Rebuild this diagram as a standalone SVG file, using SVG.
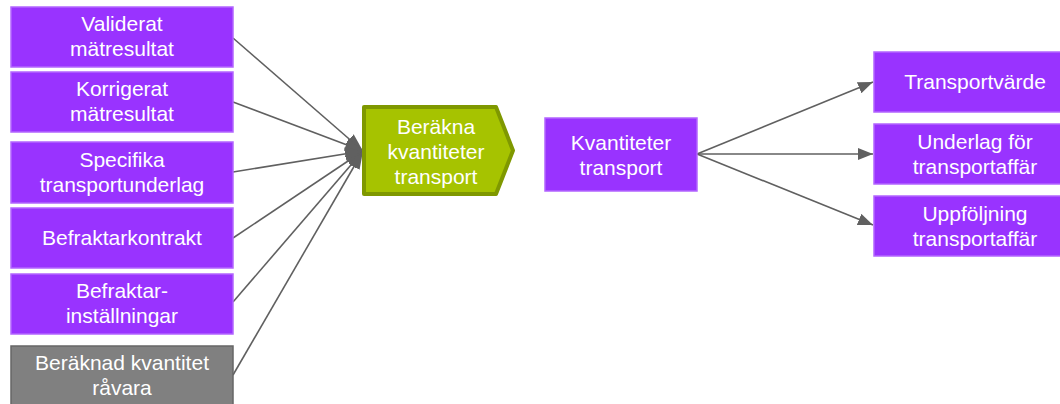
<svg xmlns="http://www.w3.org/2000/svg" width="1060" height="404" viewBox="0 0 1060 404">
<defs>
<marker id="ah" viewBox="0 0 15 12" refX="15" refY="6" markerWidth="15" markerHeight="12" markerUnits="userSpaceOnUse" orient="auto">
<path d="M0,0 L15,6 L0,12 Z" fill="#606060"/>
</marker>
<marker id="ahL" viewBox="0 0 18 13" refX="18" refY="6.5" markerWidth="18" markerHeight="13" markerUnits="userSpaceOnUse" orient="auto">
<path d="M0,0 L18,6.5 L0,13 Z" fill="#606060"/>
</marker>
<style>
.p{fill:#9933ff;stroke:#b366ff;stroke-width:1.5}
.g{fill:#808080;stroke:#666666;stroke-width:1.5}
.t{font-family:"Liberation Sans",Arial,sans-serif;font-size:21px;fill:#ffffff;text-anchor:middle}
.c{stroke:#606060;stroke-width:1.6;fill:none;marker-end:url(#ah)}
.cl{stroke:#606060;stroke-width:1.6;fill:none;marker-end:url(#ahL)}
</style>
</defs>
<rect width="1060" height="404" fill="#ffffff"/>
<g id="connectors">
<line class="cl" x1="233" y1="38" x2="363" y2="151"/>
<line class="cl" x1="233" y1="102" x2="363" y2="151"/>
<line class="cl" x1="233" y1="172" x2="363" y2="151"/>
<line class="cl" x1="233" y1="238" x2="363" y2="151"/>
<line class="cl" x1="233" y1="302" x2="363" y2="151"/>
<line class="cl" x1="233" y1="375" x2="363" y2="151"/>
<line class="c" x1="697" y1="154" x2="873" y2="82"/>
<line class="c" x1="697" y1="154" x2="873" y2="154"/>
<line class="c" x1="697" y1="154" x2="873" y2="225"/>
</g>
<g id="n1"><rect class="p" x="11" y="7" width="222" height="60"/><text class="t" x="122" y="31">Validerat</text><text class="t" x="122" y="56">mätresultat</text></g>
<g id="n2"><rect class="p" x="11" y="72" width="222" height="60"/><text class="t" x="122" y="96">Korrigerat</text><text class="t" x="122" y="121">mätresultat</text></g>
<g id="n3"><rect class="p" x="11" y="142" width="222" height="61"/><text class="t" x="122" y="167">Specifika</text><text class="t" x="122" y="192">transportunderlag</text></g>
<g id="n4"><rect class="p" x="11" y="208" width="222" height="60"/><text class="t" x="122" y="245">Befraktarkontrakt</text></g>
<g id="n5"><rect class="p" x="11" y="274" width="222" height="60"/><text class="t" x="122" y="298">Befraktar-</text><text class="t" x="122" y="323">inställningar</text></g>
<g id="n6"><rect class="g" x="11" y="346" width="222" height="64"/><text class="t" x="122" y="370">Beräknad kvantitet</text><text class="t" x="122" y="395">råvara</text></g>
<g id="proc"><path d="M364,107 L496,107 L513,150.5 L496,194 L364,194 Z" fill="#a6c300" stroke="#7f9800" stroke-width="4" stroke-linejoin="round"/><text class="t" x="436" y="134">Beräkna</text><text class="t" x="436" y="159">kvantiteter</text><text class="t" x="436" y="184">transport</text></g>
<g id="kv"><rect class="p" x="545" y="118" width="152" height="73"/><text class="t" x="621" y="150">Kvantiteter</text><text class="t" x="621" y="175">transport</text></g>
<g id="o1"><rect class="p" x="874" y="52" width="195" height="60"/><text class="t" x="975" y="89">Transportvärde</text></g>
<g id="o2"><rect class="p" x="874" y="124" width="195" height="60"/><text class="t" x="975" y="149">Underlag för</text><text class="t" x="975" y="174">transportaffär</text></g>
<g id="o3"><rect class="p" x="874" y="196" width="195" height="60"/><text class="t" x="975" y="221">Uppföljning</text><text class="t" x="975" y="246">transportaffär</text></g>
</svg>
